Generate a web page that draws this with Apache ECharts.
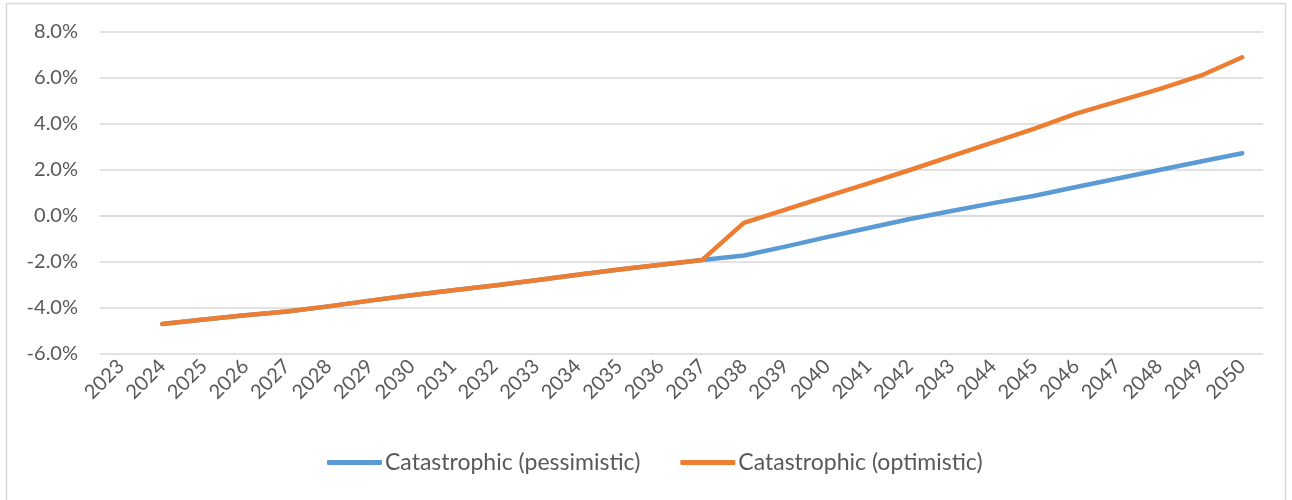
<!DOCTYPE html>
<html>
<head>
<meta charset="utf-8">
<style>
  html, body { margin: 0; padding: 0; background: #ffffff; }
  #chart { width: 1292px; height: 500px; }
</style>
<script src="https://cdn.jsdelivr.net/npm/echarts@6/dist/echarts.min.js"></script>
</head>
<body>
<div id="chart"></div>
<script>
// Years on the category axis
const years = ['2023','2024','2025','2026','2027','2028','2029','2030','2031','2032','2033','2034','2035','2036','2037',
               '2038','2039','2040','2041','2042','2043','2044','2045','2046','2047','2048','2049','2050'];

// Annual change (%) per scenario; 2023 has no value
const pessimistic = [null, -4.70, -4.50, -4.32, -4.15, -3.93, -3.68, -3.45, -3.23, -3.02, -2.79, -2.55, -2.33, -2.12, -1.91,
                     -1.72, -1.33, -0.92, -0.52, -0.13, 0.22, 0.56, 0.88, 1.26, 1.63, 2.00, 2.37, 2.73];
const optimistic  = [null, -4.70, -4.50, -4.32, -4.15, -3.93, -3.68, -3.45, -3.23, -3.02, -2.79, -2.55, -2.33, -2.12, -1.91,
                     -0.30, 0.28, 0.85, 1.42, 2.00, 2.60, 3.20, 3.80, 4.45, 4.98, 5.52, 6.10, 6.90];

const seriesNames = ['Catastrophic (pessimistic)', 'Catastrophic (optimistic)'];
const colors = ['#5b9bd5', '#ed7d31'];

const font = 'Lato, "Open Sans", sans-serif';
const chart = echarts.init(document.getElementById('chart'), null, { renderer: 'canvas' });

chart.setOption({
  backgroundColor: '#ffffff',
  animation: false,
  color: colors,
  graphic: [{
    type: 'rect',
    shape: { x: 6.5, y: 3.5, width: 1279, height: 520 },
    style: { fill: 'none', stroke: '#d9d9d9', lineWidth: 1.5 },
    silent: true, z: -1
  }],
  grid: { left: 100, right: 29, top: 32, bottom: 146, containLabel: false },
  legend: {
    bottom: 21,
    left: 322,
    icon: 'roundRect',
    itemWidth: 55,
    itemHeight: 5,
    itemGap: 40,
    textStyle: { color: '#595959', fontSize: 23, fontFamily: font, padding: [0, 0, 0, -2] },
    data: seriesNames
  },
  xAxis: {
    type: 'category',
    data: years,
    boundaryGap: true,
    axisLine: { show: true, lineStyle: { color: '#d9d9d9', width: 1.5 } },
    axisTick: { show: false },
    axisLabel: { rotate: 45, color: '#595959', fontSize: 20, fontFamily: font, margin: 9, interval: 0 }
  },
  yAxis: {
    type: 'value',
    min: -6, max: 8, interval: 2,
    axisLine: { show: false },
    axisTick: { show: false },
    splitLine: { lineStyle: { color: '#d9d9d9', width: 1.5 } },
    axisLabel: { color: '#595959', fontSize: 20, fontFamily: font, margin: 22,
                 formatter: v => v.toFixed(1) + '%' }
  },
  series: [
    { name: seriesNames[0], type: 'line', data: pessimistic, showSymbol: false, symbol: 'none',
      lineStyle: { width: 4.5, color: colors[0], cap: 'round', join: 'round' }, z: 2 },
    { name: seriesNames[1], type: 'line', data: optimistic, showSymbol: false, symbol: 'none',
      lineStyle: { width: 4.5, color: colors[1], cap: 'round', join: 'round' }, z: 3 }
  ]
});
</script>
</body>
</html>
